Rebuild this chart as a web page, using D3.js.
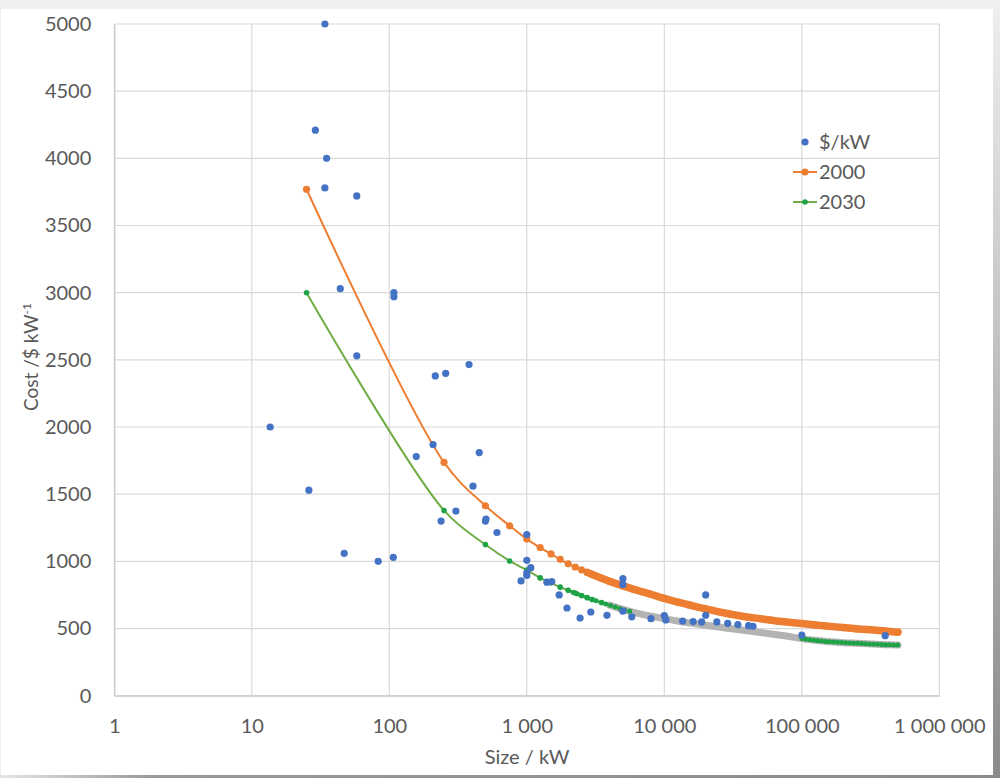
<!DOCTYPE html>
<html>
<head>
<meta charset="utf-8">
<script src="https://cdn.jsdelivr.net/npm/d3@7"></script>
<style>
  html, body { margin: 0; padding: 0; background: #f0f0f0; }
  svg { display: block; }
  text { font-family: Lato, "Open Sans", sans-serif; fill: #595959; }
</style>
</head>
<body>
<svg id="chart" width="1000" height="778"></svg>
<script>
// Observed installation costs (size in kW, cost in $/kW)
const sizeKW = [
  34, 29, 35, 34, 58, 44, 108, 108, 58, 13.6,
  26, 47, 83, 107, 216, 257, 380, 208, 157, 451,
  406, 238, 305, 500, 505, 607, 1000, 1000, 1070, 1000,
  1000, 908, 1400, 1520, 1720, 1960, 2440, 2920, 3830, 5000,
  5000, 5000, 5800, 8000, 10000, 10260, 13600, 16200, 18700, 20000,
  20000, 24100, 28900, 34300, 41000, 44200, 100000, 404000
];
const costPerKW = [
  5000, 4210, 4000, 3780, 3720, 3030, 3000, 2970, 2530, 2000,
  1530, 1060, 1000, 1030, 2380, 2400, 2465, 1870, 1780, 1810,
  1560, 1300, 1375, 1300, 1315, 1215, 1200, 1008, 953, 915,
  895, 854, 845, 850, 750, 653, 578, 623, 598, 871,
  828, 629, 587, 573, 597, 564, 556, 552, 549, 750,
  599, 549, 539, 529, 521, 517, 452, 447
];

// Cost curves for 2000 and 2030
const curveSize = [
  25, 250, 500, 750, 1000, 1250, 1500, 1750, 2000, 2250,
  2500, 2750, 3000, 3500, 4000, 4500, 5000, 6000, 7000, 8000,
  10000, 12500, 15000, 20000, 25000, 30000, 40000, 50000, 60000, 75000,
  100000, 125000, 150000, 200000, 250000, 300000, 400000, 500000
];
const cost2000 = [
  3770, 1737, 1414, 1265, 1166, 1103, 1055, 1015, 982, 958,
  937, 918, 902, 874, 851, 833, 818, 792, 772, 755,
  724, 697, 677, 646, 624, 608, 586, 573, 562, 550,
  537, 527, 519, 507, 498, 492, 482, 473
];
const cost2030 = [
  3000, 1379, 1125, 1003, 935, 877, 840, 808, 785, 764,
  746, 730, 716, 693, 674, 657, 642, 620, 604, 592,
  574, 556, 543, 525, 511, 500, 483, 470, 460, 446,
  425, 412, 404, 395, 390, 386, 380, 377
];

const xTicks = [1, 10, 100, 1000, 10000, 100000, 1000000];
const yTicks = [0, 500, 1000, 1500, 2000, 2500, 3000, 3500, 4000, 4500, 5000];
const legendItems = ["$/kW", "2000", "2030"];

const svg = d3.select("#chart");

// Panel with drop shadow edges
const defs = svg.append("defs");
const gR = defs.append("linearGradient").attr("id", "shadeRight").attr("x1", 0).attr("y1", 0).attr("x2", 0).attr("y2", 1);
gR.append("stop").attr("offset", "0%").attr("stop-color", "#eeeeee");
gR.append("stop").attr("offset", "100%").attr("stop-color", "#8a8a8a");
const gB = defs.append("linearGradient").attr("id", "shadeBottom").attr("x1", 0).attr("y1", 0).attr("x2", 1).attr("y2", 0);
gB.append("stop").attr("offset", "0%").attr("stop-color", "#e6e6e6");
gB.append("stop").attr("offset", "15%").attr("stop-color", "#9a9a9a");
gB.append("stop").attr("offset", "100%").attr("stop-color", "#8a8a8a");

svg.append("rect").attr("x", 993).attr("y", 8).attr("width", 7).attr("height", 770).attr("fill", "url(#shadeRight)");
svg.append("rect").attr("x", 0).attr("y", 775).attr("width", 1000).attr("height", 3).attr("fill", "url(#shadeBottom)");
svg.append("rect").attr("x", 1).attr("y", 9).attr("width", 992).attr("height", 766).attr("fill", "#ffffff");

const plotL = 114.3, plotR = 939.3, plotT = 24, plotB = 695.7;
const x = d3.scaleLog().domain([1, 1e6]).range([plotL, plotR]);
const y = d3.scaleLinear().domain([0, 5000]).range([plotB, plotT]);

const fmt = d => d3.format(",")(d).replace(/,/g, " ");

// Gridlines
const grid = svg.append("g");
grid.selectAll("line.v").data(xTicks).join("line")
  .attr("x1", d => x(d)).attr("x2", d => x(d)).attr("y1", plotT).attr("y2", plotB)
  .attr("stroke", "#d9d9d9").attr("stroke-width", 1.2);
grid.selectAll("line.h").data(yTicks).join("line")
  .attr("x1", plotL).attr("x2", plotR).attr("y1", d => y(d)).attr("y2", d => y(d))
  .attr("stroke", "#d9d9d9").attr("stroke-width", 1.2);

// Axes
const xAxis = svg.append("g").attr("transform", `translate(0,${plotB})`)
  .call(d3.axisBottom(x).tickValues(xTicks).tickFormat(fmt).tickSize(0));
xAxis.select(".domain").attr("stroke", "#c8c8c8").attr("stroke-width", 1.2);
xAxis.selectAll("text").attr("y", 30).attr("dy", "0.35em").style("font-size", "20px").style("fill", "#595959");

const yAxis = svg.append("g").attr("transform", `translate(${plotL},0)`)
  .call(d3.axisLeft(y).tickValues(yTicks).tickFormat(d3.format("d")).tickSize(0).tickPadding(23));
yAxis.select(".domain").attr("stroke", "#c8c8c8").attr("stroke-width", 1.2);
yAxis.selectAll("text").style("font-size", "20px").style("fill", "#595959");

// Axis titles
svg.append("text").attr("x", 527).attr("y", 757).attr("dy", "0.35em")
  .attr("text-anchor", "middle").style("font-size", "20px").text("Size / kW");
const yTitle = svg.append("text").attr("transform", "translate(31,357) rotate(-90)")
  .attr("text-anchor", "middle").attr("dy", "0.35em").style("font-size", "19px");
yTitle.append("tspan").text("Cost /$ kW");
yTitle.append("tspan").attr("dy", "-7").style("font-size", "12px").text("-1");

// Curve data
const pts2000 = curveSize.map((s, i) => [s, cost2000[i]]);
const pts2030 = curveSize.map((s, i) => [s, cost2030[i]]);
const line = d3.line().x(d => x(d[0])).y(d => y(d[1])).curve(d3.curveCatmullRom.alpha(0.5));

const orange = "#ED7D31", green = "#70AD47", greenMk = "#1fa347", blue = "#4472C4", gray = "#b3b3b3";

// 2030 series
svg.append("path").attr("d", line(pts2030)).attr("fill", "none").attr("stroke", green).attr("stroke-width", 2);
svg.append("g").selectAll("circle").data(pts2030).join("circle")
  .attr("cx", d => x(d[0])).attr("cy", d => y(d[1])).attr("r", 2.8).attr("fill", greenMk);
// dense markers merge into a band
svg.append("path").attr("d", line(pts2030.filter(d => d[0] >= 4000)))
  .attr("fill", "none").attr("stroke", gray).attr("stroke-width", 7).attr("stroke-linecap", "round");
svg.append("path").attr("d", line(pts2030.filter(d => d[0] >= 2000 && d[0] <= 6000)))
  .attr("fill", "none").attr("stroke", greenMk).attr("stroke-width", 5)
  .attr("stroke-linecap", "round").attr("stroke-dasharray", "0 5");
svg.append("path").attr("d", line(pts2030.filter(d => d[0] >= 100000)))
  .attr("fill", "none").attr("stroke", greenMk).attr("stroke-width", 5)
  .attr("stroke-linecap", "round").attr("stroke-dasharray", "0 4");

// 2000 series
svg.append("path").attr("d", line(pts2000)).attr("fill", "none").attr("stroke", orange).attr("stroke-width", 2);
svg.append("g").selectAll("circle").data(pts2000).join("circle")
  .attr("cx", d => x(d[0])).attr("cy", d => y(d[1])).attr("r", 3.6).attr("fill", orange);
svg.append("path").attr("d", line(pts2000.filter(d => d[0] >= 2750)))
  .attr("fill", "none").attr("stroke", orange).attr("stroke-width", 7.5).attr("stroke-linecap", "round");

// Observations
svg.append("g").selectAll("circle").data(sizeKW.map((s, i) => [s, costPerKW[i]])).join("circle")
  .attr("cx", d => x(d[0])).attr("cy", d => y(d[1])).attr("r", 3.6).attr("fill", blue);

// Legend
const lg = svg.append("g");
const ly = [142, 172, 202];
lg.append("circle").attr("cx", 805).attr("cy", ly[0]).attr("r", 3.6).attr("fill", blue);
lg.append("line").attr("x1", 793).attr("x2", 817).attr("y1", ly[1]).attr("y2", ly[1]).attr("stroke", orange).attr("stroke-width", 2);
lg.append("circle").attr("cx", 805).attr("cy", ly[1]).attr("r", 3.6).attr("fill", orange);
lg.append("line").attr("x1", 793).attr("x2", 817).attr("y1", ly[2]).attr("y2", ly[2]).attr("stroke", green).attr("stroke-width", 2);
lg.append("circle").attr("cx", 805).attr("cy", ly[2]).attr("r", 2.8).attr("fill", greenMk);
lg.selectAll("text").data(legendItems).join("text")
  .attr("x", 819).attr("y", (d, i) => ly[i]).attr("dy", "0.35em").style("font-size", "20px").text(d => d);
</script>
</body>
</html>
